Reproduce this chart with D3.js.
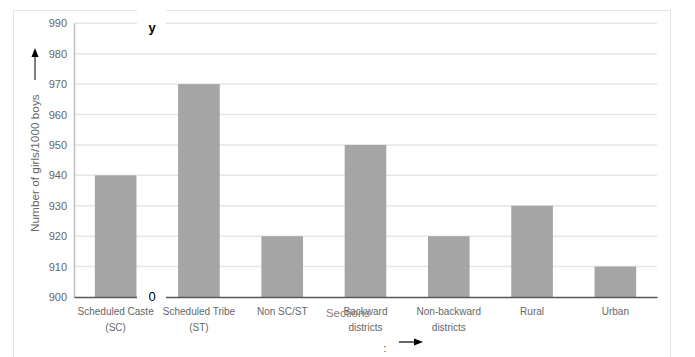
<!DOCTYPE html>
<html><head><meta charset="utf-8">
<script src="https://cdn.jsdelivr.net/npm/d3@7"></script>
<style>body{margin:0;background:#fff}svg{display:block}</style>
</head><body>
<svg id="c" width="695" height="357"></svg>
<script>
const categories = [["Scheduled Caste","(SC)"],["Scheduled Tribe","(ST)"],["Non SC/ST"],["Backward","districts"],["Non-backward","districts"],["Rural"],["Urban"]];
const values = [940, 970, 920, 950, 920, 930, 910];
const yTicks = [900, 910, 920, 930, 940, 950, 960, 970, 980, 990];
const yTitle = "Number of girls/1000 boys";
const xTitle = "Sections";

const svg = d3.select("#c");
const font = "'Liberation Sans', Arial, sans-serif";
const L = 74, R = 657, T = 23.3, B = 297;

svg.append("rect").attr("x",13.5).attr("y",10.5).attr("width",657).attr("height",360)
  .attr("fill","#fff").attr("stroke","#e3e3e3").attr("stroke-width",1);

const x = d3.scaleBand().domain(categories.map((d,i)=>i)).range([L,R]).paddingInner(0.5).paddingOuter(0.25);
const y = d3.scaleLinear().domain([900,990]).range([B,T]);

// gridlines
svg.append("g").selectAll("line").data(yTicks.slice(1)).join("line")
  .attr("x1",L).attr("x2",R).attr("y1",d=>y(d)).attr("y2",d=>y(d))
  .attr("stroke","#e6e6e6").attr("stroke-width",1.5);

// y axis
const ya = svg.append("g").attr("transform",`translate(${L},0)`)
  .call(d3.axisLeft(y).tickValues(yTicks).tickSize(0).tickPadding(7));
ya.select(".domain").attr("stroke","#bfbfbf").attr("stroke-width",1.5);
ya.selectAll("text").attr("font-family",font).attr("font-size",11).attr("fill","#666");

// bars
svg.append("g").selectAll("rect").data(values).join("rect")
  .attr("x",(d,i)=>x(i)).attr("width",x.bandwidth())
  .attr("y",d=>y(d)).attr("height",d=>y(900)-y(d)).attr("fill","#a5a5a5");

// x axis
const xa = svg.append("g").attr("transform",`translate(0,${B})`)
  .call(d3.axisBottom(x).tickSize(0).tickFormat(""));
xa.select(".domain").attr("stroke","#595959").attr("stroke-width",1.5);

// white boxes
svg.append("rect").attr("x",137).attr("y",0).attr("width",29).attr("height",30).attr("fill","#fff");
svg.append("rect").attr("x",137).attr("y",282).attr("width",29).attr("height",20).attr("fill","#fff");

// category labels
const cl = svg.append("g");
categories.forEach((lines,i)=>{
  const t = cl.append("text").attr("x",x(i)+x.bandwidth()/2).attr("y",315)
    .attr("text-anchor","middle").attr("font-family",font).attr("font-size",10).attr("fill","#666");
  lines.forEach((ln,j)=>t.append("tspan").attr("x",x(i)+x.bandwidth()/2).attr("dy",j?16:0).text(ln));
});

// y and 0 labels
svg.append("text").attr("x",152).attr("y",32).attr("text-anchor","middle")
  .attr("font-family",font).attr("font-weight","bold").attr("font-size",13).attr("fill","#000").text("y");
svg.append("text").attr("x",152).attr("y",301).attr("text-anchor","middle")
  .attr("font-family",font).attr("font-size",13).attr("fill","#000").text("0");

// y title with arrow
const yt = svg.append("g").attr("transform","translate(35,232) rotate(-90)");
yt.append("text").attr("x",0).attr("y",4).attr("font-family",font).attr("font-size",11.8)
  .attr("fill","#666").text(yTitle);
yt.append("line").attr("x1",152).attr("x2",176).attr("y1",0).attr("y2",0).attr("stroke","#000").attr("stroke-width",1);
yt.append("path").attr("d","M175,-3.5 L184,0 L175,3.5 Z").attr("fill","#000");

// x title
svg.append("text").attr("x",348).attr("y",317).attr("text-anchor","middle")
  .attr("font-family",font).attr("font-size",11.5).attr("fill","#7f7f7f").text(xTitle);
svg.append("text").attr("x",385).attr("y",352).attr("text-anchor","middle")
  .attr("font-family",font).attr("font-size",10).attr("fill","#333").text(":");
svg.append("line").attr("x1",399).attr("x2",415).attr("y1",342).attr("y2",342).attr("stroke","#000").attr("stroke-width",1.2);
svg.append("path").attr("d","M414,338.5 L423,342 L414,345.5 Z").attr("fill","#000");
</script>
</body></html>
